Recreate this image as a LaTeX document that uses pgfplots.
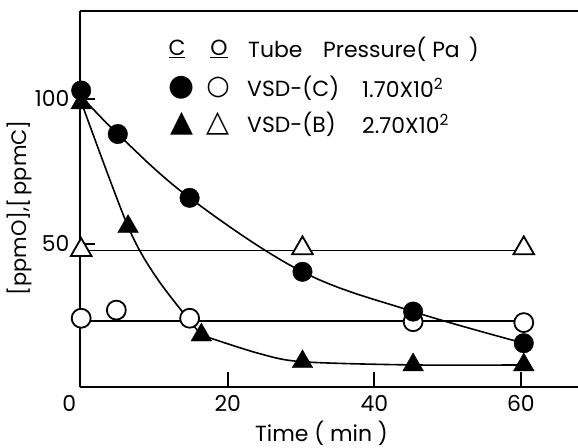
\documentclass[border=0pt]{standalone}
\usepackage{pgfplots}
\pgfplotsset{compat=1.18}
\usepackage{fontspec}
\setmainfont{Poppins}
\newfontfamily\symfont{DejaVu Sans}
\begin{document}
\begin{tikzpicture}
\begin{axis}[
  scale only axis, width=498bp, height=376bp,
  xmin=-0.16, xmax=67.8, ymin=0.7, ymax=130.3,
  axis x line*=box, axis y line*=left,
  xtick pos=left, ytick pos=left,
  axis line style={line width=2.6bp},
  xtick={20,40,60}, ytick={50,100},
  extra x ticks={0},
  extra x tick style={major tick length=0pt, xticklabel style={xshift=-12bp}},
  tick style={line width=2bp, black},
  major tick length=15bp,
  tick align=inside,
  /pgf/number format/assume math mode=true,
  tick label style={font=\fontsize{22}{24}\selectfont},
  xticklabel style={yshift=-5bp},
  yticklabel style={xshift=-7bp},
  xlabel={Time ( min )},
  ylabel={{[ppmO],[\,ppmC]}},
  label style={font=\fontsize{22}{24}\selectfont},
  x label style={at={(axis description cs:0.485,-0.1223)}, anchor=center},
  y label style={at={(axis description cs:-0.122,0.476)}, anchor=center, font=\fontsize{21}{23}\selectfont},
  clip=false,
]
% curves
\addplot[black, line width=1.6bp, smooth, tension=0.6] coordinates {(0,101) (5,87.9) (14.8,65.9) (30.2,40.4) (45.3,26.7) (60.4,15.8)};
\addplot[black, line width=1.6bp, smooth, tension=0.5] coordinates {(0,99) (6.4,56) (10.5,37.6) (16.4,18.6)};
\addplot[black, line width=1.6bp, smooth, tension=0.5] coordinates {(16.4,18.6) (24.2,12.3) (30.2,9.4) (45.3,8.3) (60.4,8.3)};
\addplot[black, line width=1.7bp] coordinates {(0,23.4) (60.4,23.4)};
\addplot[black, line width=1.7bp] coordinates {(0,47.7) (60.4,47.7)};
% markers
\addplot[only marks, mark=*, mark size=9.5pt, mark options={fill=white, draw=black, line width=1.8bp}] coordinates {(0,24.4) (4.8,27.2) (14.8,24.4) (45.3,23.2) (60.4,22.9)};
\addplot[only marks, mark=triangle*, mark size=12pt, mark options={fill=white, draw=black, line width=1.8bp}] coordinates {(0,47.9) (30.2,48.5) (60.4,48.5)};
\addplot[only marks, mark=*, mark size=9.8pt, mark options={fill=black, draw=black}] coordinates {(0,102.9) (5,87.9) (14.8,65.9) (30.2,40.4) (45.3,26.7) (60.4,15.8)};
\addplot[only marks, mark=triangle*, mark size=12pt, mark options={fill=black, draw=black}] coordinates {(0,98.6) (6.4,56) (16.4,18.6) (30.2,9.4) (45.3,8.3) (60.4,8.3)};
\end{axis}
% legend
\begin{scope}[every node/.style={inner sep=0pt, font=\fontsize{22}{24}\selectfont}]
\node at (97bp,338bp) {\underline{C}};
\node at (139bp,338bp) {\underline{O}};
\node[anchor=west] at (168bp,338bp) {Tube};
\node[anchor=west] at (243bp,338bp) {Pressure(\hspace{6bp}Pa\hspace{9bp})};
\node at (102bp,299bp) {\symfont\fontsize{30}{30}\selectfont ●};
\node at (138bp,299bp) {\symfont\fontsize{27}{27}\selectfont ○};
\node at (102bp,263bp) {\symfont\fontsize{30}{30}\selectfont ▲};
\node at (138bp,263bp) {\symfont\fontsize{30}{30}\selectfont △};
\node[anchor=west] at (167bp,299bp) {VSD-(C)};
\node[anchor=west] at (282bp,299bp) {1.70X10\textsuperscript{2}};
\node[anchor=west] at (167bp,263bp) {VSD-(B)};
\node[anchor=west] at (282bp,263bp) {2.70X10\textsuperscript{2}};
\end{scope}
\pgfresetboundingbox
\path[use as bounding box] (-80bp,-61bp) rectangle (498bp,387bp);
\end{tikzpicture}
\end{document}
